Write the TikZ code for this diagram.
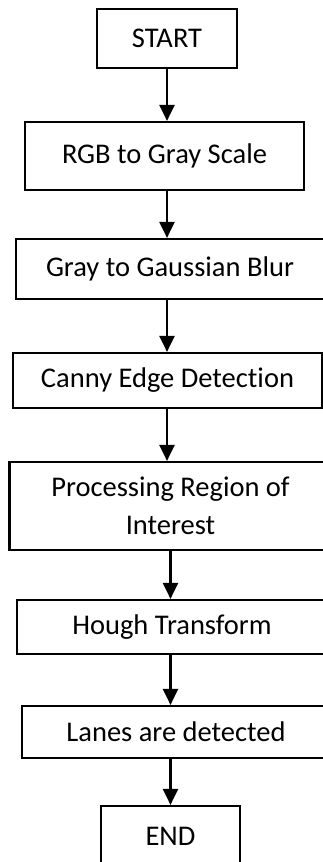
\documentclass[tikz,border=0pt]{standalone}
\usepackage{fontspec}
\setmainfont{Carlito}[Ligatures={NoCommon}]
\usetikzlibrary{positioning,calc,arrows.meta}

\begin{document}
\begin{tikzpicture}[x=1pt,y=-1pt]
  \useasboundingbox (0,0) rectangle (323,862);
  \clip (0,0) rectangle (323,862);
  \begin{scope}[
    every node/.style={
      draw,
      line width=2.2pt,
      align=center,
      anchor=center,
      inner sep=0pt,
      font=\fontsize{28.5}{37.5}\selectfont,
    },
    ]
    \node[minimum width=140pt,minimum height=59pt] (start) at (167,38.5)    {START};
    \node[minimum width=279pt,minimum height=68pt] (rgb)   at (164.5,156)   {RGB to Gray Scale};
    \node[minimum width=308pt,minimum height=60pt] (gauss) at (170,269)     {Gray to Gaussian Blur};
    \node[minimum width=309pt,minimum height=55pt] (canny) at (167.5,380.5) {Canny Edge Detection};
    \node[minimum width=322pt,minimum height=88pt] (roi)   at (170.5,506)   {Processing Region of\\Interest};
    \node[minimum width=310pt,minimum height=54pt] (hough) at (172,627)     {Hough Transform};
    \node[minimum width=308pt,minimum height=52pt] (lanes) at (176,732)     {Lanes are detected};
    \node[minimum width=139pt,minimum height=60pt] (stop)  at (170.5,836)   {END};
  \end{scope}
  \begin{scope}[
    every edge/.style={draw,line width=2.2pt,-{Triangle[length=16pt,width=15pt]}},
    ]
    \path
    (start.south)          edge (rgb.north -| start)
    (rgb.south -| start)   edge (gauss.north -| start)
    (gauss.south -| start) edge (canny.north -| start)
    (canny.south -| start) edge (roi.north -| start)
    (roi.south -| stop)    edge (hough.north -| stop)
    (hough.south -| stop)  edge (lanes.north -| stop)
    (lanes.south -| stop)  edge (stop.north);
  \end{scope}
\end{tikzpicture}
\end{document}
